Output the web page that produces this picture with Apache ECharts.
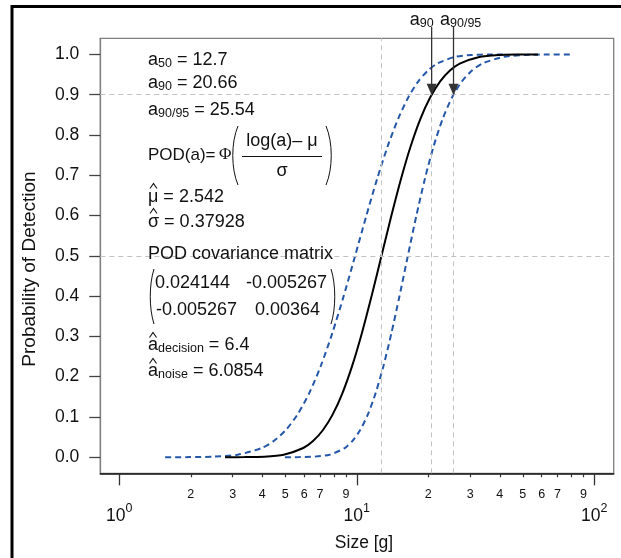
<!DOCTYPE html>
<html><head><meta charset="utf-8">
<script src="https://cdn.jsdelivr.net/npm/echarts@6/dist/echarts.min.js"></script>
<style>html,body{margin:0;padding:0;background:#fff}#c{width:621px;height:558px}</style>
</head><body><div id="c"></div>
<script>
// POD levels at which the curves were read
const pod = [0.00003,0.00023,0.00135,0.00621,0.02275,0.04006,0.06681,0.10565,0.15866,0.22663,0.30854,0.40129,0.5,0.59871,0.69146,0.77337,0.84134,0.89435,0.93319,0.95994,0.97725,0.99379,0.99865,0.99977,0.99997];
// size [g] of the fitted POD curve (black)
const sizeFit = [2.787,3.369,4.072,4.922,5.950,6.542,7.193,7.908,8.695,9.560,10.510,11.556,12.705,13.969,15.358,16.886,18.565,20.412,22.442,24.674,27.128,32.792,39.640,47.918,57.923];
// size [g] of the upper POD confidence bound (left blue dashed)
const sizeUpperBound = [1.560,1.974,2.496,3.154,3.980,4.468,5.014,5.623,6.301,7.056,7.893,8.819,9.839,10.960,12.186,13.517,14.958,16.507,18.163,19.929,21.805,25.903,30.514,35.725,41.643];
// size [g] of the lower POD confidence bound (right blue dashed)
const sizeLowerBound = [4.980,5.749,6.643,7.682,8.896,9.579,10.319,11.123,11.998,12.952,13.996,15.143,16.406,17.803,19.357,21.093,23.042,25.241,27.728,30.549,33.751,41.516,51.497,64.274,80.571];
const yTicks = [0,0.1,0.2,0.3,0.4,0.5,0.6,0.7,0.8,0.9,1.0];
const xMajorTicks = [1,10,100];
const xMinorTicks = [2,3,4,5,6,7,8,9,20,30,40,50,60,70,80,90];
const xMinorLabels = [2,3,4,5,6,7,9,20,30,40,50,60,70,90];
const a50 = 12.7, a90 = 20.66, a9095 = 25.54;
const refPOD = [0.5, 0.9];

const FONT = '"Liberation Sans", Arial, Helvetica, sans-serif';
const TXT = '#111';
const BLUE = '#2457a8';
const FS = 17.5, AS = 18, SS = 12.5;

const chart = echarts.init(document.getElementById('c'), null, {renderer:'canvas'});
const zip = (xs) => xs.map((x,i)=>[x,pod[i]]);

const xCommon = {type:'log', logBase:10, min:0.8318, max:120.7, position:'bottom', splitLine:{show:false}, minorTick:{show:false}, minorSplitLine:{show:false}};

chart.setOption({
  animation:false,
  backgroundColor:'#fff',
  grid:{left:100.3, top:38.3, right:7.3, bottom:84.7, show:true, borderColor:'#7f7f7f', borderWidth:1.3, backgroundColor:'transparent'},
  xAxis:[
    Object.assign({}, xCommon, {
      axisLine:{show:true, onZero:false, lineStyle:{color:'#111', width:1.5}},
      axisTick:{show:true, customValues:xMajorTicks, length:12, lineStyle:{color:'#333', width:1.3}},
      axisLabel:{customValues:xMajorTicks, margin:29, formatter:(v)=>'{b|10}{p|'+Math.round(Math.log10(v))+'}',
        rich:{b:{fontSize:FS, fontFamily:FONT, color:TXT}, p:{fontSize:SS, fontFamily:FONT, color:TXT, padding:[0,0,14,0]}}}
    }),
    Object.assign({}, xCommon, {
      axisLine:{show:false, onZero:false},
      axisTick:{show:true, customValues:xMinorTicks, length:4, lineStyle:{color:'#333', width:1.2}},
      axisLabel:{customValues:xMinorLabels, margin:15, fontSize:SS, fontFamily:FONT, color:TXT,
        formatter:(v)=>String(v>=10?Math.round(v/10):Math.round(v))}
    })
  ],
  yAxis:{type:'value', min:-0.04, max:1.04,
    axisLine:{show:true, onZero:false, lineStyle:{color:'#7f7f7f', width:1.3}},
    axisTick:{show:true, customValues:yTicks, length:11, lineStyle:{color:'#444', width:1.3}},
    axisLabel:{customValues:yTicks, margin:21, fontSize:FS, fontFamily:FONT, color:TXT, formatter:(v)=>v.toFixed(1)},
    splitLine:{show:false}},
  series:[
    {type:'line', name:'upper', data:zip(sizeUpperBound), symbol:'none', smooth:0.25, z:3,
     lineStyle:{color:BLUE, width:2, type:[6,4]},
     markLine:{silent:true, symbol:['none','none'], label:{show:false}, animation:false,
       lineStyle:{color:'#c2c2c2', type:[5,4], width:1},
       data:[{xAxis:a50},{xAxis:a90},{xAxis:a9095},{yAxis:refPOD[0]},{yAxis:refPOD[1]}]}},
    {type:'line', name:'lower', data:zip(sizeLowerBound), symbol:'none', smooth:0.25, z:3,
     lineStyle:{color:BLUE, width:2, type:[6,4]}},
    {type:'line', name:'fit', data:zip(sizeFit), symbol:'none', smooth:0.25, z:4,
     lineStyle:{color:'#000', width:2}}
  ]
});

const subRich = {s:{fontSize:SS, fontFamily:FONT, fill:TXT, padding:[8,0,0,0]}};
function T(x, y, text, extra) {
  return Object.assign({type:'text', x:x, y:y, silent:true, z:50,
    style:Object.assign({text:text, fontSize:AS, fontFamily:FONT, fill:TXT, align:'left', verticalAlign:'middle', rich:subRich}, extra||{})});
}
function caret(cx, cy) {
  return {type:'polyline', silent:true, z:50, shape:{points:[[cx-3.5,cy+2.5],[cx,cy-2.5],[cx+3.5,cy+2.5]]}, style:{stroke:TXT, lineWidth:1.1, fill:'none'}};
}
function paren(xEnd, xMid, y1, y2) {
  const k = (y2-y1)*0.28;
  return {type:'bezierCurve', silent:true, z:50, shape:{x1:xEnd, y1:y1, x2:xEnd, y2:y2, cpx1:xMid, cpy1:y1+k, cpx2:xMid, cpy2:y2-k}, style:{stroke:TXT, lineWidth:1, fill:'none'}};
}

const g = [];
g.push({type:'rect', silent:true, z:100, shape:{x:12, y:6.5, width:800, height:800}, style:{fill:'none', stroke:'#000', lineWidth:3}});
// left annotation block
g.push(T(148, 60, 'a{s|50} = 12.7'));
g.push(T(148, 83, 'a{s|90} = 20.66'));
g.push(T(148, 110, 'a{s|90/95} = 25.54'));
g.push(T(148, 155, 'POD(a)=', {fontSize:17}));
g.push(T(219, 155, 'Φ', {fontFamily:'"Liberation Serif", "DejaVu Serif", serif', fontSize:17}));
g.push(paren(238, 231, 126, 185));
g.push(paren(326, 333, 126, 185));
g.push(T(282, 141, 'log(a)– μ', {align:'center'}));
g.push({type:'line', silent:true, z:50, shape:{x1:242, y1:156.5, x2:322, y2:156.5}, style:{stroke:TXT, lineWidth:1}});
g.push(T(282, 171, 'σ', {align:'center'}));
g.push(T(148, 197, 'μ = 2.542'));
g.push(caret(153.5, 186));
g.push(T(148, 222, 'σ = 0.37928'));
g.push(caret(153.5, 211));
g.push(T(148, 254, 'POD covariance matrix'));
g.push(paren(154, 149, 269, 324));
g.push(paren(331, 336, 269, 324));
g.push(T(155, 283, '0.024144'));
g.push(T(246, 283, '-0.005267'));
g.push(T(156, 310, '-0.005267'));
g.push(T(255, 310, '0.00364'));
g.push(T(148, 345, 'a{s|decision} = 6.4'));
g.push(caret(153, 335));
g.push(T(148, 371, 'a{s|noise} = 6.0854'));
g.push(caret(153, 361));
// axis titles
g.push(T(364, 543, 'Size [g]', {align:'center', fontSize:FS}));
g.push({type:'text', x:30, y:269, rotation:Math.PI/2, silent:true, z:50, style:{text:'Probability of Detection', fontSize:19, fontFamily:FONT, fill:TXT, align:'center', verticalAlign:'middle'}});
// arrows for a90 and a90/95
const tipY = chart.convertToPixel({yAxisIndex:0}, refPOD[1]);
[[a90, 'a{s|90}', 'right', 2], [a9095, 'a{s|90/95}', 'left', -13.5]].forEach(([v, label, al, dx]) => {
  const ax = chart.convertToPixel({xAxisIndex:0}, v);
  g.push({type:'line', silent:true, z:60, shape:{x1:ax, y1:27, x2:ax, y2:tipY-9}, style:{stroke:'#333', lineWidth:1.3}});
  g.push({type:'polygon', silent:true, z:60, shape:{points:[[ax-5,tipY-11],[ax+5,tipY-11],[ax,tipY+0.5]]}, style:{fill:'#333'}});
  g.push(T(ax+dx, 20, label, {align:al}));
});
chart.setOption({graphic:g});
</script></body></html>
